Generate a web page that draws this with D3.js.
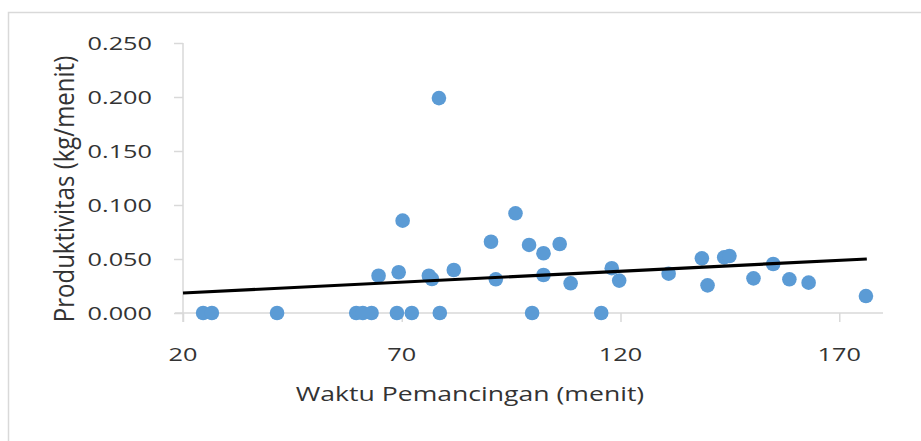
<!DOCTYPE html>
<html>
<head>
<meta charset="utf-8">
<script src="https://cdn.jsdelivr.net/npm/d3@7"></script>
<style>
  body { margin: 0; background: #fff; }
  text { font-family: "Open Sans", "Noto Sans", sans-serif; fill: #333; }
</style>
</head>
<body>
<svg id="chart" width="921" height="441"></svg>
<script>
// waktu pemancingan (menit) vs produktivitas (kg/menit)
var waktu = [24.6, 26.6, 41.5, 59.6, 61.1, 63.1, 68.9, 72.3, 78.7, 99.8, 115.6,
    64.7, 69.3, 70.2, 76.2, 76.9, 78.5, 81.9, 90.4, 91.5, 96.0, 99.1, 102.4, 102.4,
    106.1, 108.6, 118.0, 119.7, 131.0, 138.6, 139.9, 143.7, 144.9, 150.4, 154.9,
    158.6, 163.0, 176.1];
var produktivitas = [0, 0, 0, 0, 0, 0, 0, 0, 0, 0, 0,
    0.0345, 0.0377, 0.0855, 0.0345, 0.0315, 0.199, 0.0398, 0.066, 0.0312, 0.0923, 0.063, 0.0553, 0.0352,
    0.0639, 0.0275, 0.0415, 0.030, 0.0364, 0.0506, 0.0256, 0.0515, 0.0528, 0.0321, 0.0454,
    0.0312, 0.0281, 0.0157];

var trendX = [20, 176.3];
var trendY = [0.0185, 0.050];

var xTicks = [20, 70, 120, 170];
var yTicks = [0, 0.05, 0.1, 0.15, 0.2, 0.25];

var svg = d3.select("#chart");
var stretch = 1.33;

var x = d3.scaleLinear().domain([20, 180]).range([183, 883]);
var y = d3.scaleLinear().domain([0, 0.25]).range([313, 43]);

// chart border
svg.append("rect")
    .attr("x", 8.5).attr("y", 12.5)
    .attr("width", 940).attr("height", 460)
    .attr("fill", "none").attr("stroke", "#d9d9d9").attr("stroke-width", 1.5);

// y axis
var yAxis = svg.append("g").attr("transform", "translate(183,0)")
    .call(d3.axisLeft(y).tickValues(yTicks).tickSize(9).tickFormat(""));
yAxis.select(".domain").remove();
yAxis.selectAll("line").attr("stroke", "#d9d9d9").attr("stroke-width", 1.5);
svg.append("line")
    .attr("x1", 183).attr("x2", 183).attr("y1", 43).attr("y2", 322)
    .attr("stroke", "#d9d9d9").attr("stroke-width", 1.5);

yTicks.forEach(function(t) {
    svg.append("text")
        .attr("transform", "translate(152," + (y(t) + 7) + ") scale(" + stretch + ",1)")
        .attr("text-anchor", "end")
        .attr("font-size", 19)
        .text(d3.format(".3f")(t));
});

// x axis
var xAxis = svg.append("g").attr("transform", "translate(0,313)")
    .call(d3.axisBottom(x).tickValues(xTicks).tickSize(9).tickFormat(""));
xAxis.select(".domain").remove();
xAxis.selectAll("line").attr("stroke", "#d9d9d9").attr("stroke-width", 1.5);
svg.append("line")
    .attr("x1", 175).attr("x2", 883).attr("y1", 313).attr("y2", 313)
    .attr("stroke", "#d9d9d9").attr("stroke-width", 1.5);

xTicks.forEach(function(t) {
    svg.append("text")
        .attr("transform", "translate(" + x(t) + ",361) scale(" + stretch + ",1)")
        .attr("text-anchor", "middle")
        .attr("font-size", 19)
        .text(t);
});

// points
svg.append("g").selectAll("circle")
    .data(waktu)
    .join("circle")
    .attr("cx", function(d) { return x(d); })
    .attr("cy", function(d, i) { return y(produktivitas[i]); })
    .attr("r", 7.3)
    .attr("fill", "#5b9bd5");

// trendline
svg.append("line")
    .attr("x1", x(trendX[0])).attr("y1", y(trendY[0]))
    .attr("x2", x(trendX[1])).attr("y2", y(trendY[1]))
    .attr("stroke", "#000").attr("stroke-width", 3.2);

// titles
svg.append("text")
    .attr("transform", "translate(470,401) scale(" + stretch + ",1)")
    .attr("text-anchor", "middle")
    .attr("font-size", 20)
    .text("Waktu Pemancingan (menit)");

svg.append("text")
    .attr("transform", "translate(74,189) scale(1.12,1) rotate(-90)")
    .attr("text-anchor", "middle")
    .attr("font-size", 24)
    .text("Produktivitas (kg/menit)");
</script>
</body>
</html>
